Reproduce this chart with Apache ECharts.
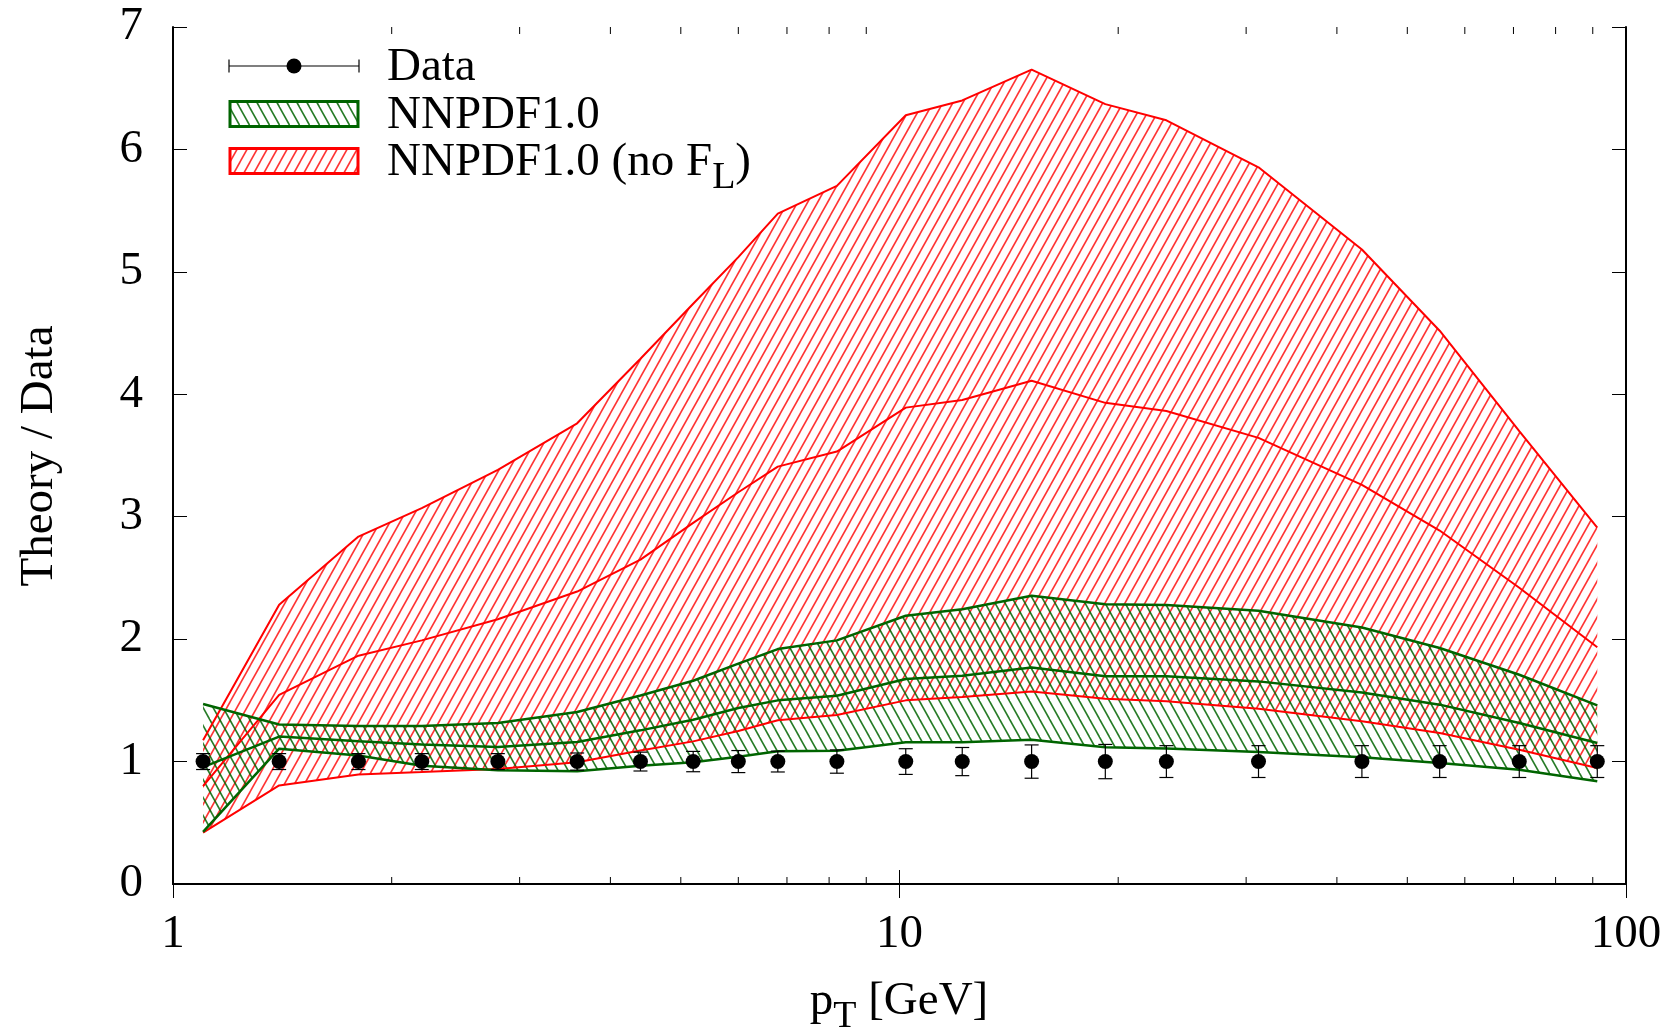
<!DOCTYPE html>
<html>
<head>
<meta charset="utf-8">
<script src="https://cdn.jsdelivr.net/npm/echarts@6/dist/echarts.min.js"></script>
<style>
  html, body { margin: 0; padding: 0; background: #fff; }
  #chart { width: 1671px; height: 1027px; }
</style>
</head>
<body>
<div id="chart"></div>
<script>
// Transverse-momentum bins (GeV)
const pT = [1.1, 1.4, 1.8, 2.2, 2.8, 3.6, 4.4, 5.2, 6.0, 6.8, 8.2, 10.2, 12.2, 15.2, 19.2, 23.3, 31.2, 43.3, 55.4, 71.3, 91.3];

// Data normalised to itself, with relative uncertainties
const dataRatio = [1, 1, 1, 1, 1, 1, 1, 1, 1, 1, 1, 1, 1, 1, 1, 1, 1, 1, 1, 1, 1];
const dataErr = [0.065, 0.065, 0.065, 0.065, 0.065, 0.07, 0.077, 0.083, 0.09, 0.085, 0.095, 0.105, 0.115, 0.136, 0.14, 0.13, 0.13, 0.13, 0.13, 0.13, 0.13];

// NNPDF1.0 (no F_L): upper edge, central value, lower edge
const noFLUpper   = [1.174, 2.281, 2.838, 3.07, 3.382, 3.763, 4.29, 4.74, 5.12, 5.476, 5.702, 6.279, 6.40, 6.652, 6.37, 6.238, 5.854, 5.183, 4.519, 3.70, 2.91];
const noFLCentral = [0.80, 1.545, 1.865, 1.99, 2.163, 2.389, 2.65, 2.95, 3.2, 3.409, 3.532, 3.891, 3.953, 4.111, 3.93, 3.863, 3.644, 3.26, 2.887, 2.42, 1.934];
const noFLLower   = [0.42, 0.805, 0.895, 0.915, 0.94, 0.995, 1.09, 1.165, 1.25, 1.337, 1.38, 1.50, 1.527, 1.573, 1.514, 1.492, 1.432, 1.329, 1.233, 1.097, 0.948];

// NNPDF1.0: upper edge, central value, lower edge
const nnUpper   = [1.47, 1.303, 1.29, 1.29, 1.315, 1.405, 1.54, 1.66, 1.80, 1.919, 1.99, 2.191, 2.245, 2.354, 2.285, 2.279, 2.232, 2.095, 1.928, 1.709, 1.459];
const nnCentral = [0.955, 1.204, 1.165, 1.14, 1.12, 1.16, 1.255, 1.342, 1.437, 1.50, 1.538, 1.674, 1.701, 1.769, 1.696, 1.696, 1.655, 1.565, 1.465, 1.315, 1.152];
const nnLower   = [0.425, 1.105, 1.05, 0.965, 0.929, 0.921, 0.965, 0.994, 1.04, 1.084, 1.089, 1.157, 1.157, 1.179, 1.117, 1.106, 1.078, 1.035, 0.989, 0.934, 0.839];

// Axis ticks
const xMinorTicks = [2, 3, 4, 5, 6, 7, 8, 9, 20, 30, 40, 50, 60, 70, 80, 90];

const RED = '#ff0000';
const GREEN = '#006400';
const FONT = "'Liberation Serif', 'DejaVu Serif', serif";
const FS = 47;      // main text size
const FS_SUB = 38;  // subscript size

// Diagonal hatch tile: dir > 0 draws "/", dir < 0 draws "\"
function hatch(color, dir, lw) {
  const w = 10, h = 18;
  const c = document.createElement('canvas');
  c.width = w; c.height = h;
  const g = c.getContext('2d');
  g.strokeStyle = color;
  g.lineWidth = lw;
  for (let k = -2; k <= 2; k++) {
    g.beginPath();
    if (dir > 0) {
      g.moveTo(k * w - w, 2 * h);
      g.lineTo(k * w + 2 * w, -h);
    } else {
      g.moveTo(k * w - w, -h);
      g.lineTo(k * w + 2 * w, 2 * h);
    }
    g.stroke();
  }
  return c;
}
const redHatch = { image: hatch('rgba(255,0,0,0.8)', 1, 1.6), repeat: 'repeat' };
const greenHatch = { image: hatch('rgba(0,100,0,0.85)', -1, 1.6), repeat: 'repeat' };

const pairs = (ys) => pT.map((x, i) => [x, ys[i]]);

// Hatched band between a lower and an upper curve, mapped through the axes
function bandSeries(lower, upper, pattern) {
  return {
    type: 'custom', silent: true, z: 1,
    data: pT.map((x, i) => [x, lower[i], upper[i]]),
    renderItem: function (params, api) {
      if (params.dataIndex !== 0) return null;
      const pts = [];
      for (let i = 0; i < pT.length; i++) pts.push(api.coord([pT[i], upper[i]]));
      for (let i = pT.length - 1; i >= 0; i--) pts.push(api.coord([pT[i], lower[i]]));
      return { type: 'polygon', shape: { points: pts }, style: { fill: pattern, stroke: null } };
    }
  };
}

function lineSeries(ys, color, width) {
  return {
    type: 'line', data: pairs(ys), symbol: 'none',
    lineStyle: { color: color, width: width }, z: 3, silent: true
  };
}

const chart = echarts.init(document.getElementById('chart'), null, { renderer: 'canvas' });

const axisLineStyle = { show: true, lineStyle: { color: '#000', width: 2 } };
const tickStyle = { show: true, inside: true, length: 14, lineStyle: { color: '#000', width: 1 } };

const option = {
  animation: false,
  backgroundColor: '#fff',
  grid: { left: 173, right: 45, top: 27, bottom: 143, containLabel: false },
  xAxis: [
    {
      type: 'log', logBase: 10, min: 1, max: 100, position: 'bottom',
      axisLine: axisLineStyle, axisTick: tickStyle,
      axisLabel: { fontFamily: FONT, fontSize: FS, color: '#000', margin: 27,
        formatter: (v) => String(Math.round(v)) },
      splitLine: { show: false }
    },
    {
      type: 'log', logBase: 10, min: 1, max: 100, position: 'top',
      axisLine: axisLineStyle, axisTick: tickStyle,
      axisLabel: { show: false }, splitLine: { show: false }
    }
  ],
  yAxis: [
    {
      type: 'value', min: 0, max: 7, interval: 1, position: 'left',
      axisLine: axisLineStyle, axisTick: tickStyle,
      axisLabel: { fontFamily: FONT, fontSize: FS, color: '#000', margin: 30 },
      splitLine: { show: false }
    },
    {
      type: 'value', min: 0, max: 7, interval: 1, position: 'right',
      axisLine: axisLineStyle, axisTick: tickStyle,
      axisLabel: { show: false }, splitLine: { show: false }
    }
  ],
  series: [
    bandSeries(noFLLower, noFLUpper, redHatch),
    bandSeries(nnLower, nnUpper, greenHatch),
    lineSeries(noFLUpper, RED, 2),
    lineSeries(noFLCentral, RED, 2),
    lineSeries(noFLLower, RED, 2),
    lineSeries(nnUpper, GREEN, 2.5),
    lineSeries(nnCentral, GREEN, 2.5),
    lineSeries(nnLower, GREEN, 2.5),
    // logarithmic minor ticks on bottom and top frame
    {
      type: 'custom', silent: true, clip: false, z: 5,
      data: xMinorTicks.map((v) => [v, 0]),
      renderItem: function (params, api) {
        const v = api.value(0);
        const b = api.coord([v, 0]);
        const t = api.coord([v, 7]);
        return {
          type: 'group',
          children: [
            { type: 'line', shape: { x1: b[0], y1: b[1], x2: b[0], y2: b[1] - 7 }, style: { stroke: '#000', lineWidth: 1 } },
            { type: 'line', shape: { x1: t[0], y1: t[1], x2: t[0], y2: t[1] + 7 }, style: { stroke: '#000', lineWidth: 1 } }
          ]
        };
      }
    },
    // error bars of the data
    {
      type: 'custom', silent: true, z: 6,
      data: pT.map((x, i) => [x, dataRatio[i], dataErr[i]]),
      renderItem: function (params, api) {
        const x = api.value(0), y = api.value(1), e = api.value(2);
        const hi = api.coord([x, y + e]);
        const lo = api.coord([x, y - e]);
        const cap = 7;
        const st = { stroke: '#000', lineWidth: 1.2 };
        return {
          type: 'group',
          children: [
            { type: 'line', shape: { x1: hi[0], y1: hi[1], x2: lo[0], y2: lo[1] }, style: st },
            { type: 'line', shape: { x1: hi[0] - cap, y1: hi[1], x2: hi[0] + cap, y2: hi[1] }, style: st },
            { type: 'line', shape: { x1: lo[0] - cap, y1: lo[1], x2: lo[0] + cap, y2: lo[1] }, style: st }
          ]
        };
      }
    },
    {
      type: 'scatter', data: pairs(dataRatio), symbol: 'circle', symbolSize: 15,
      itemStyle: { color: '#000', opacity: 1 }, z: 7, silent: true
    }
  ],
  graphic: [
    // axis titles
    {
      type: 'text', x: 40, y: 456, rotation: Math.PI / 2,
      style: { text: 'Theory / Data', font: FS + 'px ' + FONT, fill: '#000',
        align: 'center', verticalAlign: 'middle', textAlign: 'center', textVerticalAlign: 'middle' }
    },
    {
      type: 'text', x: 899, y: 1002,
      style: {
        text: 'p{sub|T} [GeV]', font: FS + 'px ' + FONT, fill: '#000',
        align: 'center', verticalAlign: 'middle', textAlign: 'center', textVerticalAlign: 'middle',
        rich: { sub: { fontSize: FS_SUB, fontFamily: FONT, padding: [30, 0, 0, 0] } }
      }
    },
    // key: Data
    { type: 'line', shape: { x1: 229, y1: 66, x2: 359, y2: 66 }, style: { stroke: '#000', lineWidth: 1.2 } },
    { type: 'line', shape: { x1: 229, y1: 59.5, x2: 229, y2: 72.5 }, style: { stroke: '#000', lineWidth: 1.2 } },
    { type: 'line', shape: { x1: 359, y1: 59.5, x2: 359, y2: 72.5 }, style: { stroke: '#000', lineWidth: 1.2 } },
    { type: 'circle', shape: { cx: 294, cy: 66, r: 7.5 }, style: { fill: '#000' } },
    {
      type: 'text', x: 387, y: 68,
      style: { text: 'Data', font: FS + 'px ' + FONT, fill: '#000', verticalAlign: 'middle', textVerticalAlign: 'middle' }
    },
    // key: NNPDF1.0
    { type: 'rect', shape: { x: 230, y: 101.5, width: 128, height: 25 }, style: { fill: greenHatch, stroke: GREEN, lineWidth: 3 } },
    {
      type: 'text', x: 387, y: 116,
      style: { text: 'NNPDF1.0', font: FS + 'px ' + FONT, fill: '#000', verticalAlign: 'middle', textVerticalAlign: 'middle' }
    },
    // key: NNPDF1.0 (no F_L)
    { type: 'rect', shape: { x: 230, y: 148.5, width: 128, height: 25 }, style: { fill: redHatch, stroke: RED, lineWidth: 3 } },
    {
      type: 'text', x: 387, y: 163,
      style: {
        text: 'NNPDF1.0 (no F{sub|L})', font: FS + 'px ' + FONT, fill: '#000',
        verticalAlign: 'middle', textVerticalAlign: 'middle',
        rich: { sub: { fontSize: FS_SUB, fontFamily: FONT, padding: [30, 0, 0, 0] } }
      }
    }
  ]
};

chart.setOption(option);
</script>
</body>
</html>
